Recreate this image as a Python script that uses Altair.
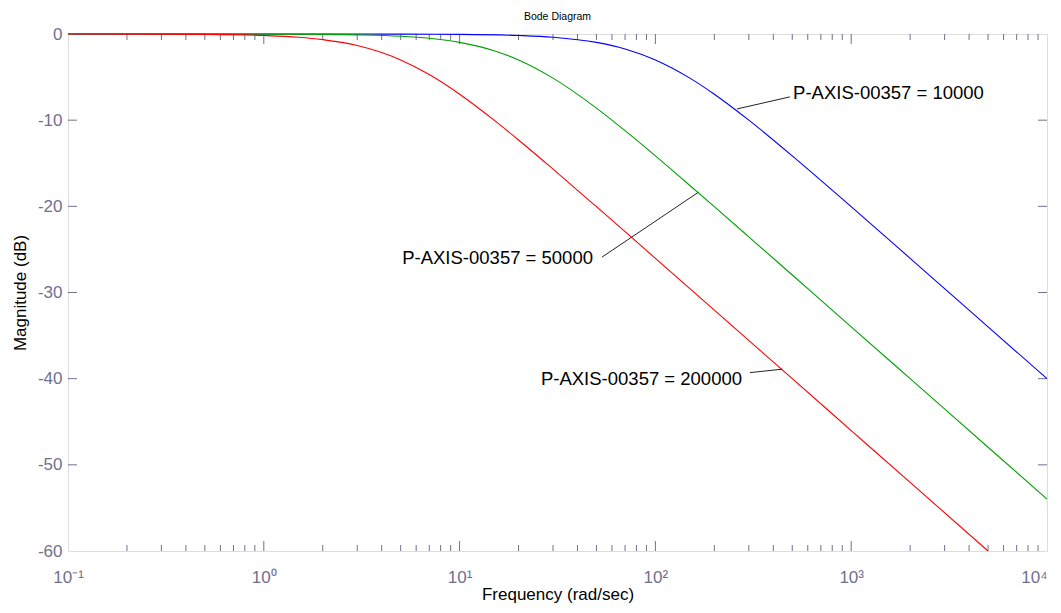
import json
import altair as alt
import pandas as pd

# ---------------- data ----------------
SERIES = ["P-AXIS-00357 = 10000", "P-AXIS-00357 = 50000", "P-AXIS-00357 = 200000"]
COLORS = ["#0000ff", "#00a000", "#ff0000"]

blue_f = [0.1, 1, 5, 10, 20, 30, 50, 70, 100, 150, 200, 300, 500, 700, 1000, 2000, 5000, 10000]
blue_db = [0, 0, -0.01, -0.04, -0.17, -0.37, -0.97, -1.73, -3.01, -5.12, -6.99, -10.0, -14.15,
           -16.99, -20.04, -26.03, -33.98, -40.0]

green_f = [0.1, 1, 2, 3, 5, 7, 10, 15, 20, 30, 50, 70, 100, 150, 200, 300, 500, 1000, 2000, 5000, 10000]
green_db = [0, -0.01, -0.04, -0.10, -0.26, -0.50, -0.97, -1.94, -3.01, -5.12, -8.60, -11.22, -14.15,
            -17.58, -20.04, -23.54, -27.97, -33.98, -40.0, -47.96, -53.98]

red_f = [0.1, 0.2, 0.5, 1, 1.5, 2, 3, 4, 5, 7, 10, 15, 20, 30, 50, 70, 100, 200, 500, 1000, 2000, 5000]
red_db = [0, -0.01, -0.04, -0.17, -0.37, -0.65, -1.34, -2.15, -3.01, -4.71, -6.99, -10.0, -12.30,
          -15.68, -20.04, -22.94, -26.03, -32.04, -40.0, -46.02, -52.04, -60.0]

# annotation: label text, anchor on label, point on curve, text position, alignment
ann_text = SERIES
ann_f1 = [486, 53.3, 304]
ann_db1 = [-7.3, -25.9, -39.3]
ann_f2 = [261, 165, 444]
ann_db2 = [-8.7, -18.4, -38.9]
ann_tf = [505, 48.0, 277]
ann_tdb = [-6.85, -26.0, -40.0]
ann_align = ["left", "right", "right"]

X_TICKS = [0.1, 1, 10, 100, 1000, 10000]
X_TICK_LABELS = ["10⁻¹", "10⁰", "10¹", "10²", "10³", "10⁴"]
X_MAJOR_INNER = [1, 10, 100, 1000]
MANTISSA = [2, 3, 4, 5, 6, 7, 8, 9]
DECADES = [0.1, 1, 10, 100, 1000]
X_MINOR = [m * d for d in DECADES for m in MANTISSA]
Y_TICKS = [-60, -50, -40, -30, -20, -10, 0]
Y_INNER = [-50, -40, -30, -20, -10]

TITLE = "Bode Diagram"
X_TITLE = "Frequency  (rad/sec)"
Y_TITLE = "Magnitude (dB)"

# ---------------- chart ----------------
W, H = 979, 517
FONT = "Liberation Sans, Arial, sans-serif"
AX = "#70708f"

rows = []
for name, fs, ds in zip(SERIES, [blue_f, green_f, red_f], [blue_db, green_db, red_db]):
    for f, d in zip(fs, ds):
        rows.append({"s": name, "f": f, "db": d})
lines_df = pd.DataFrame(rows)

ann_df = pd.DataFrame({"t": ann_text, "f": ann_f1, "db": ann_db1, "f2": ann_f2, "db2": ann_db2,
                       "tf": ann_tf, "tdb": ann_tdb, "al": ann_align})

xscale = alt.Scale(type="log", domain=[0.1, 10000], nice=False)
yscale = alt.Scale(domain=[-60, 0], nice=False, zero=False)

label_expr = json.dumps(X_TICK_LABELS, ensure_ascii=False) + "[round(log(datum.value)/LN10)+1]"

xaxis = alt.Axis(values=X_TICKS, labelExpr=label_expr, title=X_TITLE, grid=False, ticks=False,
                 tickSize=0, domain=False, labelFont=FONT, labelFontSize=17, labelColor=AX,
                 labelPadding=18, labelOverlap=False, labelFlush=False,
                 labelAlign=alt.ExprRef(expr="datum.value > 5000 ? 'right' : 'center'"),
                 titleFont=FONT, titleFontSize=17, titleFontWeight="normal", titleColor="black",
                 titlePadding=1)
yaxis = alt.Axis(values=Y_TICKS, labelExpr="'' + datum.value", title=Y_TITLE, grid=False,
                 ticks=False, tickSize=0, domain=False, labelFont=FONT, labelFontSize=17,
                 labelColor=AX, labelPadding=6, labelOverlap=False, labelFlush=False,
                 titleFont=FONT, titleFontSize=17, titleFontWeight="normal", titleColor="black",
                 titlePadding=8)


def X(field):
    return alt.X(field, type="quantitative", scale=xscale, axis=xaxis)


def Y(field):
    return alt.Y(field, type="quantitative", scale=yscale, axis=yaxis)


lines = alt.Chart(lines_df).mark_line(strokeWidth=1.1, interpolate="monotone").encode(
    x=X("f"), y=Y("db"),
    color=alt.Color("s:N", scale=alt.Scale(domain=SERIES, range=COLORS), legend=None),
    detail="s:N",
)

leaders = alt.Chart(ann_df).mark_rule(color="#222222", strokeWidth=1).encode(
    x=X("f"), y=Y("db"), x2=alt.X2("f2"), y2=alt.Y2("db2")
)

texts = []
for al in ["left", "right"]:
    texts.append(
        alt.Chart(ann_df).transform_filter(alt.datum.al == al).mark_text(
            align=al, baseline="middle", font=FONT, fontSize=18.5, color="black"
        ).encode(x=X("tf"), y=Y("tdb"), text="t:N")
    )

major_df = pd.DataFrame({"f": X_MAJOR_INNER})
minor_df = pd.DataFrame({"f": X_MINOR})
yt_df = pd.DataFrame({"db": Y_INNER})

tick_layers = [
    alt.Chart(major_df).mark_rule(color=AX, strokeWidth=1).encode(
        x=X("f"), y=alt.value(H), y2=alt.value(H - 10)),
    alt.Chart(minor_df).mark_rule(color=AX, strokeWidth=1).encode(
        x=X("f"), y=alt.value(H), y2=alt.value(H - 6)),
    alt.Chart(major_df).mark_rule(color=AX, strokeWidth=1).encode(
        x=X("f"), y=alt.value(0), y2=alt.value(10)),
    alt.Chart(minor_df).mark_rule(color=AX, strokeWidth=1).encode(
        x=X("f"), y=alt.value(0), y2=alt.value(6)),
    alt.Chart(yt_df).mark_rule(color=AX, strokeWidth=1).encode(
        y=Y("db"), x=alt.value(0), x2=alt.value(9)),
    alt.Chart(yt_df).mark_rule(color=AX, strokeWidth=1).encode(
        y=Y("db"), x=alt.value(W), x2=alt.value(W - 9)),
]

chart = alt.layer(*tick_layers, lines, leaders, *texts).properties(
    width=W, height=H,
    autosize=alt.AutoSizeParams(type="none"),
    padding={"left": 60, "top": 26, "right": 6, "bottom": 54},
    title=alt.TitleParams(TITLE, font=FONT, fontSize=10.5, fontWeight="normal", color="black",
                          anchor="middle", offset=3),
).configure_view(stroke=AX, strokeWidth=1).configure(background="white")

chart.save("out.html", embed_options={"renderer": "svg", "actions": False})
